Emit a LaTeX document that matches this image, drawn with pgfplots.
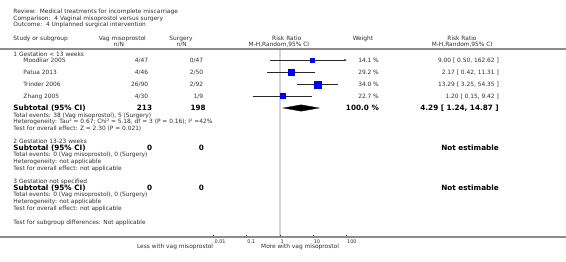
\documentclass[border=0pt]{standalone}
\usepackage{fontspec}
\setmainfont{DejaVu Sans}
\usepackage{pgfplots}
\pgfplotsset{compat=1.18}
\usetikzlibrary{arrows.meta}
\definecolor{txt}{HTML}{2E2E2E}
\definecolor{sqblue}{HTML}{0000FF}
\definecolor{refgray}{HTML}{D4D4D4}
\definecolor{rulegray}{HTML}{8C8C8C}
\newcommand{\fr}{\fontsize{5.9}{6.5}\selectfont}
\newcommand{\fbold}{\fontsize{7.3}{8}\selectfont\bfseries}
\newcommand{\ft}{\fontsize{5.0}{5.5}\selectfont}
\begin{document}
\begin{tikzpicture}[x=1bp,y=1bp]
\begin{axis}[
  at={(0,0)}, anchor=south west,
  width=566bp, height=261bp, scale only axis,
  xmode=log, xmin=3.98e-9, xmax=3.8e8,
  ymin=0, ymax=261, y dir=reverse,
  hide axis, clip=false,
]
% line of no effect
\addplot[refgray, line width=1.6bp] coordinates {(1,49.5) (1,237)};
% confidence intervals
\addplot[black!85, line width=0.55bp, -{Stealth[length=2.6bp,width=2.2bp]}] coordinates {(0.50,60) (100,60)};
\addplot[black!85, line width=0.55bp] coordinates {(0.42,72.5) (11.31,72.5)};
\addplot[black!85, line width=0.55bp] coordinates {(3.25,84.3) (54.35,84.3)};
\addplot[black!85, line width=0.55bp] coordinates {(0.15,96) (9.42,96)};
% study squares (size from weight)
\addplot[only marks, mark=square*, mark size=2.1, mark options={fill=sqblue, draw=sqblue}] coordinates {(9.00,60)};
\addplot[only marks, mark=square*, mark size=3.2, mark options={fill=sqblue, draw=sqblue}] coordinates {(2.17,72.5)};
\addplot[only marks, mark=square*, mark size=3.5, mark options={fill=sqblue, draw=sqblue}] coordinates {(13.29,84.3)};
\addplot[only marks, mark=square*, mark size=2.7, mark options={fill=sqblue, draw=sqblue}] coordinates {(1.20,96)};
% pooled diamond
\addplot[black, fill=black, line width=0.3bp] coordinates {(1.24,108) (4.29,104.8) (14.87,108) (4.29,111.2)} -- cycle;
% axis ticks
\foreach \t in {0.01,0.1,1,10,100} {
  \edef\tmp{\noexpand\draw[black!80, line width=0.5bp] (axis cs:\t,234.6) -- (axis cs:\t,237);}
  \tmp
}
\end{axis}
\begin{scope}[shift={(0,261)}, y=-1bp, every node/.style={inner sep=0pt, text=txt}]
% rules
\draw[rulegray, line width=1.8bp] (0,49.3) -- (566,49.3);
\draw[rulegray, line width=1.8bp] (0,237.2) -- (566,237.2);
% title block
\node[anchor=base west, font=\fr] at (13.3,13.8) {Review:\ \ Medical treatments for incomplete miscarriage};
\node[anchor=base west, font=\fr] at (13.3,20.1) {Comparison:\ \ 4 Vaginal misoprostol versus surgery};
\node[anchor=base west, font=\fr] at (13.3,26.4) {Outcome:\ \ 4 Unplanned surgical intervention};
% headers
\node[anchor=base west, font=\fr] at (13.3,40.3) {Study or subgroup};
\node[anchor=base, font=\fr] at (122.3,40.3) {Vag misoprostol};
\node[anchor=base, font=\fr] at (119,46.3) {n/N};
\node[anchor=base, font=\fr] at (181,40.3) {Surgery};
\node[anchor=base, font=\fr] at (181.7,46.3) {n/N};
\node[anchor=base west, font=\fr] at (272,40.3) {Risk Ratio};
\node[anchor=base west, font=\fr] at (248.5,46.3) {M-H,Random,95\% CI};
\node[anchor=base, font=\fr] at (363,40.3) {Weight};
\node[anchor=base, font=\fr] at (462,40.3) {Risk Ratio};
\node[anchor=base, font=\fr] at (462,46.3) {M-H,Random,95\% CI};
% subgroup 1
\node[anchor=base west, font=\fr] at (13.3,56.3) {1 Gestation < 13 weeks};
\node[anchor=base west, font=\fr] at (23.3,62) {Moodliar 2005};
\node[anchor=base west, font=\fr] at (23.3,74.5) {Patua 2013};
\node[anchor=base west, font=\fr] at (23.3,86.3) {Trinder 2006};
\node[anchor=base west, font=\fr] at (23.3,98.3) {Zhang 2005};
\node[anchor=base east, font=\fr] at (148.3,62) {4/47};
\node[anchor=base east, font=\fr] at (148.3,74.5) {4/46};
\node[anchor=base east, font=\fr] at (148.3,86.3) {26/90};
\node[anchor=base east, font=\fr] at (148.3,98.3) {4/30};
\node[anchor=base east, font=\fr] at (203.3,62) {0/47};
\node[anchor=base east, font=\fr] at (203.3,74.5) {2/50};
\node[anchor=base east, font=\fr] at (203.3,86.3) {2/92};
\node[anchor=base east, font=\fr] at (203.3,98.3) {1/9};
\node[anchor=base east, font=\fr] at (379,62) {14.1 \%};
\node[anchor=base east, font=\fr] at (379,74.5) {29.2 \%};
\node[anchor=base east, font=\fr] at (379,86.3) {34.0 \%};
\node[anchor=base east, font=\fr] at (379,98.3) {22.7 \%};
\node[anchor=base east, font=\fr] at (499,62) {9.00 [ 0.50, 162.62 ]};
\node[anchor=base east, font=\fr] at (499,74.5) {2.17 [ 0.42, 11.31 ]};
\node[anchor=base east, font=\fr] at (499,86.3) {13.29 [ 3.25, 54.35 ]};
\node[anchor=base east, font=\fr] at (499,98.3) {1.20 [ 0.15, 9.42 ]};
\node[anchor=base west, font=\fbold, text=black] at (13.3,110.8) {Subtotal (95\% CI)};
\node[anchor=base east, font=\fbold, text=black] at (152.3,110.8) {213};
\node[anchor=base east, font=\fbold, text=black] at (206,110.8) {198};
\node[anchor=base east, font=\fbold, text=black] at (379,110.8) {100.0 \%};
\node[anchor=base east, font=\fbold, text=black] at (499,110.8) {4.29 [ 1.24, 14.87 ]};
\node[anchor=base west, font=\fr] at (13.3,117.3) {Total events: 38 (Vag misoprostol), 5 (Surgery)};
\node[anchor=base west, font=\fr] at (13.3,123.7) {Heterogeneity: Tau² = 0.67; Chi² = 5.18, df = 3 (P = 0.16); I² =42\%};
\node[anchor=base west, font=\fr] at (13.3,130) {Test for overall effect: Z = 2.30 (P = 0.021)};
% subgroup 2
\node[anchor=base west, font=\fr] at (13.3,143.7) {2 Gestation 13-23 weeks};
\node[anchor=base west, font=\fbold, text=black] at (13.3,150) {Subtotal (95\% CI)};
\node[anchor=base east, font=\fbold, text=black] at (152.5,150) {0};
\node[anchor=base east, font=\fbold, text=black] at (204.2,150) {0};
\node[anchor=base east, font=\fbold, text=black] at (499,150.6) {Not estimable};
\node[anchor=base west, font=\fr] at (13.3,156.5) {Total events: 0 (Vag misoprostol), 0 (Surgery)};
\node[anchor=base west, font=\fr] at (13.3,163.3) {Heterogeneity: not applicable};
\node[anchor=base west, font=\fr] at (13.3,170) {Test for overall effect: not applicable};
% subgroup 3
\node[anchor=base west, font=\fr] at (13.3,183.5) {3 Gestation not specified};
\node[anchor=base west, font=\fbold, text=black] at (13.3,190) {Subtotal (95\% CI)};
\node[anchor=base east, font=\fbold, text=black] at (152.5,190) {0};
\node[anchor=base east, font=\fbold, text=black] at (204.2,190) {0};
\node[anchor=base east, font=\fbold, text=black] at (499,190.6) {Not estimable};
\node[anchor=base west, font=\fr] at (13.3,196.7) {Total events: 0 (Vag misoprostol), 0 (Surgery)};
\node[anchor=base west, font=\fr] at (13.3,203.3) {Heterogeneity: not applicable};
\node[anchor=base west, font=\fr] at (13.3,210) {Test for overall effect: not applicable};
\node[anchor=base west, font=\fr] at (13.3,224.5) {Test for subgroup differences: Not applicable};
% tick labels
\node[anchor=base west, font=\ft] at (214.3,243.3) {0.01};
\node[anchor=base west, font=\ft] at (247.2,243.3) {0.1};
\node[anchor=base west, font=\ft] at (280.3,243.3) {1};
\node[anchor=base west, font=\ft] at (313.6,243.3) {10};
\node[anchor=base west, font=\ft] at (346.9,243.3) {100};
\node[anchor=base east, font=\fr] at (213.3,248.6) {Less with vag misoprostol};
\node[anchor=base west, font=\fr] at (261,248.6) {More with vag misoprostol};
\end{scope}
\pgfresetboundingbox
\path (0,0) rectangle (566,261);
\end{tikzpicture}
\end{document}
